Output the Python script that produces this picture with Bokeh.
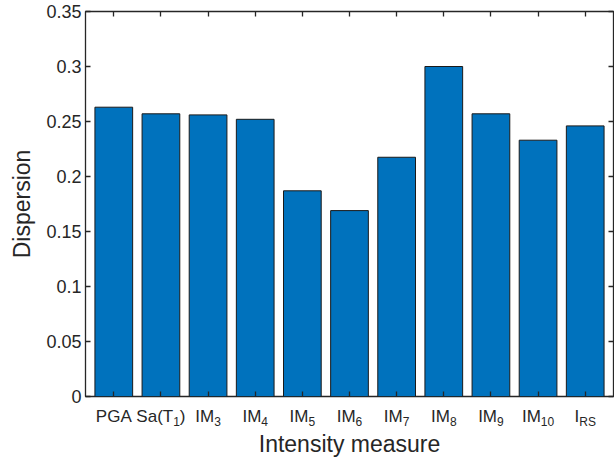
from bokeh.plotting import figure
from bokeh.models import Range1d, FixedTicker, LinearAxis, ColumnDataSource
from bokeh.layouts import column
from bokeh.core.properties import value
from bokeh.embed import file_html
from bokeh.resources import INLINE

# ---- data ----
label_main = ["PGA", "Sa(T", "IM", "IM", "IM", "IM", "IM", "IM", "IM", "IM", "I"]
label_sub = ["", "1", "3", "4", "5", "6", "7", "8", "9", "10", "RS"]
label_tail = ["", ")", "", "", "", "", "", "", "", "", ""]
dispersion = [0.263, 0.257, 0.256, 0.252, 0.187, 0.169, 0.2175, 0.300, 0.257, 0.233, 0.246]
y_ticks = [0, 0.05, 0.1, 0.15, 0.2, 0.25, 0.3, 0.35]
y_tick_labels = ["0", "0.05", "0.1", "0.15", "0.2", "0.25", "0.3", "0.35"]
x_title = "Intensity measure"
y_title = "Dispersion"

FONT = "Liberation Sans"
TXT = "#262626"
BAR = "#0072BD"

W = 614
H_MAIN, H_LAB = 406, 51
ML, MR, MT, MB = 85, 1, 11, 10
y_max = 0.35
x_pos = list(range(1, len(dispersion) + 1))
xr = Range1d(0.4, len(dispersion) + 0.6)

p = figure(width=W, height=H_MAIN, output_backend="svg", toolbar_location=None, title=None,
           x_range=xr, y_range=Range1d(0, y_max),
           min_border_left=ML, min_border_right=MR, min_border_top=MT, min_border_bottom=MB,
           x_axis_location=None, y_axis_location=None)
p.grid.visible = False
p.background_fill_color = "white"
p.border_fill_color = "white"
p.outline_line_color = TXT
p.outline_line_width = 1.3

p.vbar(x=x_pos, top=dispersion, bottom=0, width=0.8, fill_color=BAR,
       line_color="#1a1a1a", line_width=1)


def style(ax, labels=True):
    ax.axis_line_color = None
    ax.major_tick_in = 5
    ax.major_tick_out = 0
    ax.minor_tick_line_color = None
    ax.major_tick_line_color = TXT
    ax.major_tick_line_width = 1.3
    if not labels:
        ax.major_label_text_font_size = "0px"
        ax.major_label_text_color = None
        ax.major_label_standoff = 0


yt = FixedTicker(ticks=y_ticks)
xt = FixedTicker(ticks=x_pos)

left = LinearAxis(ticker=yt)
style(left)
left.major_label_overrides = {t: s for t, s in zip(y_ticks, y_tick_labels)}
left.major_label_text_font = FONT
left.major_label_text_font_size = "18px"
left.major_label_text_color = TXT
left.major_label_standoff = 4
left.axis_label = y_title
left.axis_label_text_font = FONT
left.axis_label_text_font_size = "23px"
left.axis_label_text_font_style = "normal"
left.axis_label_text_color = TXT
left.axis_label_standoff = 8
p.add_layout(left, "left")

right = LinearAxis(ticker=yt)
style(right, labels=False)
p.add_layout(right, "right")

top = LinearAxis(ticker=xt)
style(top, labels=False)
p.add_layout(top, "above")

bottom = LinearAxis(ticker=xt)
style(bottom, labels=False)
bottom.major_label_overrides = {i: "" for i in x_pos}
p.add_layout(bottom, "below")

# ---- strip below the axes: x tick labels with subscripts and the x title ----
q = figure(width=W, height=H_LAB, output_backend="svg", toolbar_location=None, title=None,
           x_range=xr, y_range=Range1d(-H_LAB, 0),
           min_border_left=ML, min_border_right=MR, min_border_top=0, min_border_bottom=0,
           x_axis_location=None, y_axis_location=None)
q.grid.visible = False
q.outline_line_color = None
q.background_fill_color = "white"
q.border_fill_color = "white"

CW = {"P": .667, "G": .778, "A": .667, "S": .667, "a": .556, "(": .333, "T": .611,
      ")": .333, "I": .278, "M": .833, "R": .722}


def tw(s, fs):
    return sum(CW.get(c, .556) for c in s) * fs


fs_main, fs_sub = 17, 12
base_main, base_sub, base_title = -10, -15, -37
rows = dict(x=[], y=[], text=[], size=[], dx=[])
for xi, m, s, t in zip(x_pos, label_main, label_sub, label_tail):
    wm, ws, wt = tw(m, fs_main), tw(s, fs_sub), tw(t, fs_main)
    x0 = -(wm + ws + wt) / 2
    for txt, yy, fs, dx in ((m, base_main, fs_main, x0), (s, base_sub, fs_sub, x0 + wm),
                            (t, base_main, fs_main, x0 + wm + ws)):
        if txt:
            rows["x"].append(xi)
            rows["y"].append(yy)
            rows["text"].append(txt)
            rows["size"].append(f"{fs}px")
            rows["dx"].append(dx)

q.text(x="x", y="y", text="text", x_offset="dx", text_font_size="size",
       source=ColumnDataSource(rows), text_font=value(FONT), text_color=TXT,
       text_align="left", text_baseline="alphabetic")
q.text(x=[(xr.start + xr.end) / 2], y=[base_title], text=[x_title], text_font=value(FONT),
       text_font_size="23px", text_color=TXT, text_align="center",
       text_baseline="alphabetic")

open("out.html", "w").write(file_html(column(p, q, spacing=0), INLINE))
